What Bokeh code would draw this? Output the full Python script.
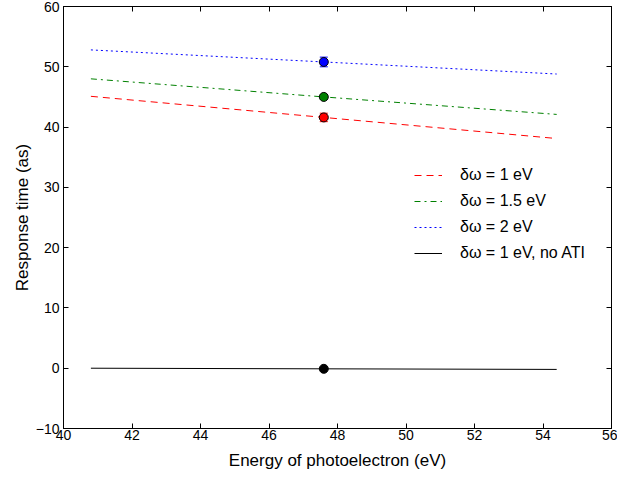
from bokeh.plotting import figure
from bokeh.models import LinearAxis, Range1d, ColumnDataSource, Whisker, Legend, LegendItem
from bokeh.embed import file_html
from bokeh.resources import INLINE

# data
energy = [40.8, 47.6, 54.4]
tau_dw1 = [45.1, 41.6, 38.1]
tau_dw15 = [48.0, 45.0, 42.1]
tau_dw2 = [52.8, 50.8, 48.8]
tau_noati = [0.0, -0.1, -0.2]

pt_energy = [47.6, 47.6, 47.6, 47.6]
pt_tau = [41.6, 45.0, 50.8, -0.1]
pt_err = [0.7, 0.3, 0.8, 0.0]
pt_colors = ["#ff0000", "#008000", "#0000ff", "#000000"]

labels = ["δω = 1 eV", "δω = 1.5 eV", "δω = 2 eV", "δω = 1 eV, no ATI"]
x_ticks = [40, 42, 44, 46, 48, 50, 52, 54, 56]
y_ticks = [-10, 0, 10, 20, 30, 40, 50, 60]

FONT = "Liberation Sans"

p = figure(width=617, height=479, output_backend="svg", toolbar_location=None,
           x_range=Range1d(40, 56), y_range=Range1d(-10, 60),
           min_border_left=63, min_border_right=6, min_border_top=6, min_border_bottom=51)
p.xgrid.visible = False
p.ygrid.visible = False
p.outline_line_color = "black"
p.outline_line_width = 1
p.background_fill_color = "white"
p.border_fill_color = "white"

p.xaxis.ticker = x_ticks
p.yaxis.ticker = y_ticks
for ax in (p.xaxis[0], p.yaxis[0]):
    ax.major_tick_in = 5
    ax.major_tick_out = 0
    ax.minor_tick_in = 0
    ax.minor_tick_out = 0
    ax.axis_line_color = "black"
    ax.major_tick_line_color = "black"
    ax.major_label_text_font = FONT
    ax.major_label_text_font_size = "14px"
    ax.major_label_text_color = "black"
    ax.axis_label_text_font = FONT
    ax.axis_label_text_font_size = "17px"
    ax.axis_label_text_font_style = "normal"
    ax.axis_label_text_color = "black"
p.xaxis.axis_label = "Energy of photoelectron (eV)"
p.yaxis.axis_label = "Response time (as)"
p.xaxis.major_label_standoff = 1
p.yaxis.major_label_standoff = 4
p.xaxis.axis_label_standoff = 8
p.yaxis.axis_label_standoff = 1

top = LinearAxis(ticker=x_ticks, major_tick_in=5, major_tick_out=0,
                 minor_tick_in=0, minor_tick_out=0,
                 major_label_overrides={t: "" for t in x_ticks},
                 major_label_standoff=0, axis_line_color="black")
right = LinearAxis(ticker=y_ticks, major_tick_in=5, major_tick_out=0,
                   minor_tick_in=0, minor_tick_out=0,
                   major_label_overrides={t: "" for t in y_ticks},
                   major_label_standoff=0, axis_line_color="black")
p.add_layout(top, "above")
p.add_layout(right, "right")

r1 = p.line(energy, tau_dw1, line_color="#ff0000", line_width=1, line_dash="7 5")
r2 = p.line(energy, tau_dw15, line_color="#008000", line_width=1, line_dash="6 4 2 4")
r3 = p.line(energy, tau_dw2, line_color="#0000ff", line_width=1, line_dash="2 3")
r4 = p.line(energy, tau_noati, line_color="#000000", line_width=1)

src = ColumnDataSource(dict(x=pt_energy, y=pt_tau,
                            lo=[t - e for t, e in zip(pt_tau, pt_err)],
                            hi=[t + e for t, e in zip(pt_tau, pt_err)],
                            c=pt_colors))
w = Whisker(base="x", lower="lo", upper="hi", source=src, dimension="height",
            line_color="c", line_width=1)
w.upper_head.size = 8
w.lower_head.size = 8
w.upper_head.line_color = "c"
w.lower_head.line_color = "c"
p.add_layout(w)
p.scatter("x", "y", source=src, size=9, fill_color="c", line_color="black", line_width=1)

legend = Legend(items=[LegendItem(label=labels[0], renderers=[r1]),
                       LegendItem(label=labels[1], renderers=[r2]),
                       LegendItem(label=labels[2], renderers=[r3]),
                       LegendItem(label=labels[3], renderers=[r4])],
                location=(351, 165), border_line_color=None, background_fill_alpha=0,
                label_text_font=FONT, label_text_font_size="16px",
                glyph_width=28, label_standoff=18, spacing=6, padding=8,
                label_text_color="black")
p.add_layout(legend, "center")

open("out.html", "w").write(file_html(p, INLINE))
